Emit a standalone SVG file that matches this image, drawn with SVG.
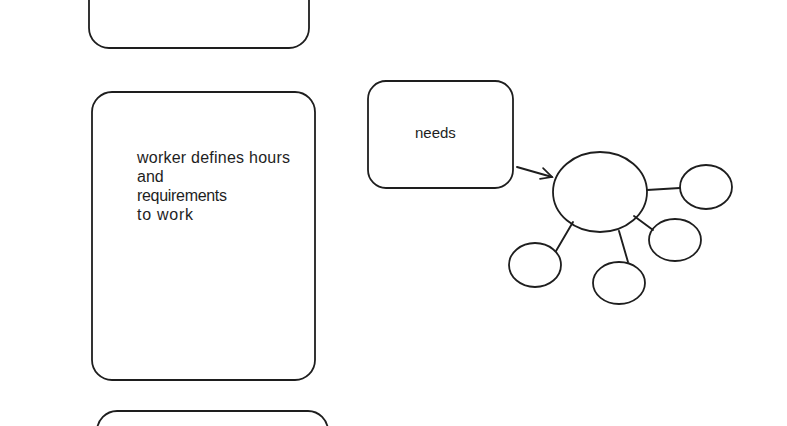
<svg xmlns="http://www.w3.org/2000/svg" width="787" height="426" viewBox="0 0 787 426">
<style>
.box{fill:none;stroke:#1e1e1e;stroke-width:1.8}
.ln{fill:none;stroke:#1e1e1e;stroke-width:1.9;stroke-linecap:round}
.t{font-family:"Liberation Sans",Arial,sans-serif;font-size:15px;fill:#1e1e1e}
.tw{font-size:16px}
</style>
<defs>
<marker id="ah" markerWidth="14" markerHeight="14" refX="12" refY="7" orient="auto" markerUnits="userSpaceOnUse">
<path d="M1,1 L12,7 L1,12" fill="none" stroke="#1e1e1e" stroke-width="1.7" stroke-linecap="round"/>
</marker>
</defs>
<rect width="787" height="426" fill="#fff"/>
<g id="box-top"><rect class="box" x="89" y="-40" width="220" height="88" rx="20"/></g>
<g id="box-worker">
<rect class="box" x="92" y="92" width="223" height="288" rx="20"/>
<text class="t tw" x="137" y="163" textLength="153" lengthAdjust="spacing">worker defines hours</text>
<text class="t tw" x="137" y="182">and</text>
<text class="t tw" x="137" y="201" textLength="90" lengthAdjust="spacing">requirements</text>
<text class="t tw" x="137" y="220" textLength="56" lengthAdjust="spacing">to work</text>
</g>
<g id="box-bottom"><rect class="box" x="97" y="411" width="231" height="80" rx="20"/></g>
<g id="box-needs">
<rect class="box" x="368" y="81" width="145" height="107" rx="18"/>
<text class="t" x="415" y="138">needs</text>
</g>
<g id="c-center"><ellipse class="box" cx="600" cy="192" rx="47" ry="40"/></g>
<g id="c-right"><ellipse class="box" cx="706" cy="187" rx="26" ry="22"/></g>
<g id="c-lowright"><ellipse class="box" cx="675" cy="240" rx="26" ry="21"/></g>
<g id="c-bottom"><ellipse class="box" cx="619" cy="283" rx="26" ry="21"/></g>
<g id="c-left"><ellipse class="box" cx="535" cy="265" rx="26" ry="22"/></g>
<g id="connectors">
<line class="ln" x1="517" y1="167" x2="552" y2="177" marker-end="url(#ah)"/>
<line class="ln" x1="647" y1="190" x2="680" y2="188"/>
<line class="ln" x1="634" y1="216" x2="653" y2="230"/>
<line class="ln" x1="619" y1="231" x2="628" y2="262"/>
<line class="ln" x1="573" y1="222" x2="556" y2="251"/>
</g>
</svg>
